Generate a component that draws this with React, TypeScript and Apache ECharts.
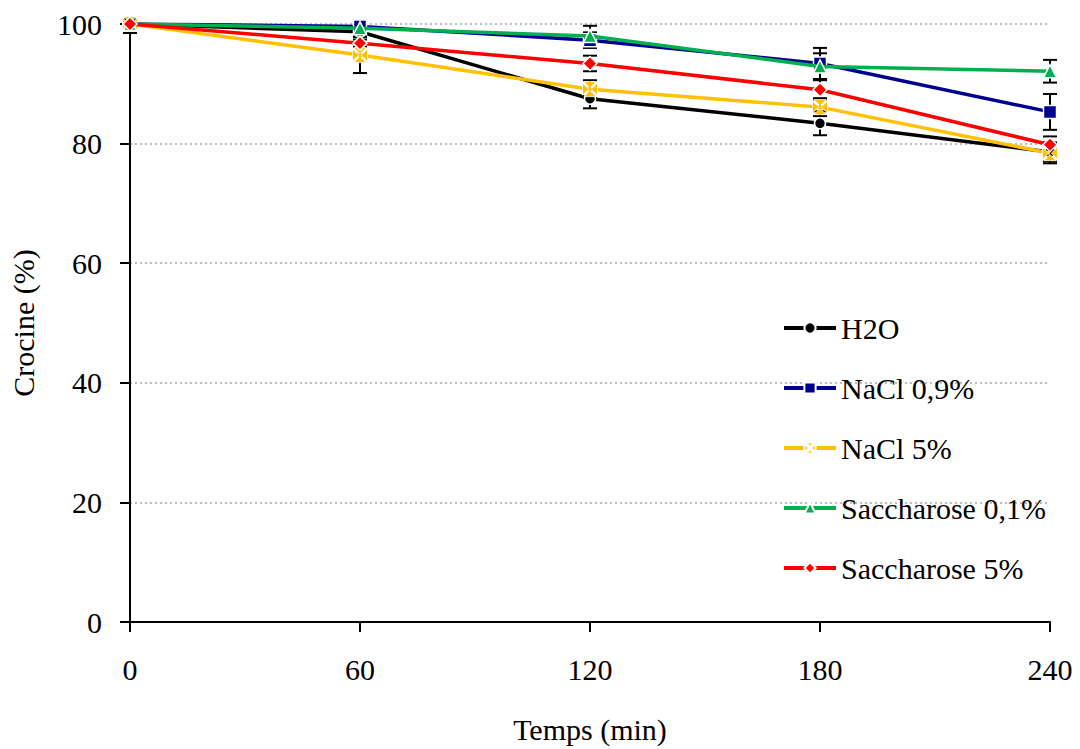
import React, { useEffect, useRef } from "react";
import * as echarts from "echarts";

const times = [0, 60, 120, 180, 240];
const seriesNames = ["H2O", "NaCl 0,9%", "NaCl 5%", "Saccharose 0,1%", "Saccharose 5%"];
const h2o = [100, 98.7, 87.5, 83.4, 78.6];
const h2oErr = [1.5, 0.6, 1.6, 2.0, 1.6];
const nacl09 = [100, 99.6, 97.3, 93.4, 85.3];
const nacl09Err = [0.3, 0.4, 1.3, 2.6, 3.0];
const nacl5 = [100, 94.8, 89.1, 86.1, 78.4];
const nacl5Err = [0.3, 3.0, 1.5, 1.5, 1.7];
const sacch01 = [100, 99.3, 98.0, 92.9, 92.1];
const sacch01Err = [0.3, 0.5, 1.7, 2.2, 1.9];
const sacch5 = [100, 96.8, 93.4, 89.0, 79.8];
const sacch5Err = [0.3, 0.6, 1.3, 1.6, 1.4];
const yMax = 100;

const colors = ["#000000", "#000090", "#FFC000", "#00B050", "#FF0000"];
const FONT = "Liberation Serif, Times New Roman, serif";
const xSymbolPath =
  "path://M0.9,0L9.1,0L5,4.1Z M10,0.9L10,9.1L5.9,5Z M9.1,10L0.9,10L5,5.9Z M0,9.1L0,0.9L4.1,5Z";

export default function App() {
  const ref = useRef<HTMLDivElement>(null);
  useEffect(() => {
    if (!ref.current) return;
    const chart = echarts.init(ref.current, null, { renderer: "svg" });
    const values = [h2o, nacl09, nacl5, sacch01, sacch5];
    const errs = [h2oErr, nacl09Err, nacl5Err, sacch01Err, sacch5Err];
    const symbols = ["circle", "rect", xSymbolPath, "triangle", "diamond"];
    const symbolSizes = [11, 13, 15, 13, 14];
    const borderWidths = [1.5, 1.5, 0.8, 1.5, 1.5];

    const errSeries = values.map((vals, i) => ({
      type: "custom",
      name: "err" + i,
      z: 2,
      silent: true,
      data: times.map((t, j) => [t, vals[j], errs[i][j]]),
      encode: { x: 0, y: 1 },
      renderItem: (params: any, api: any) => {
        const x = api.value(0);
        const y = api.value(1);
        const e = api.value(2);
        const clipped = y + e > yMax;
        const top = api.coord([x, Math.min(y + e, yMax)]);
        const bot = api.coord([x, y - e]);
        const hw = 7;
        const st = { stroke: "#000", lineWidth: 2 };
        const children: any[] = [
          { type: "line", shape: { x1: top[0], y1: top[1], x2: bot[0], y2: bot[1] }, style: st },
          { type: "line", shape: { x1: bot[0] - hw, y1: bot[1], x2: bot[0] + hw, y2: bot[1] }, style: st },
        ];
        if (!clipped) {
          children.push({
            type: "line",
            shape: { x1: top[0] - hw, y1: top[1], x2: top[0] + hw, y2: top[1] },
            style: st,
          });
        }
        return { type: "group", children };
      },
    }));

    const lineSeries = values.map((vals, i) => ({
      type: "line",
      name: seriesNames[i],
      z: 3 + i,
      data: times.map((t, j) => [t, vals[j]]),
      symbol: symbols[i],
      symbolSize: symbolSizes[i],
      showAllSymbol: true,
      lineStyle: { color: colors[i], width: 3.5 },
      itemStyle: { color: colors[i], borderColor: "#fff", borderWidth: borderWidths[i] },
    }));

    chart.setOption({
      animation: false,
      backgroundColor: "#fff",
      textStyle: { fontFamily: FONT },
      grid: { left: 128, right: 30, top: 24, bottom: 124, containLabel: false },
      legend: {
        orient: "vertical",
        left: 777,
        top: 308,
        itemWidth: 52,
        itemHeight: 14,
        itemGap: 30,
        data: seriesNames,
        lineStyle: { width: 4 },
        textStyle: { fontFamily: FONT, fontSize: 30, color: "#000" },
      },
      xAxis: {
        type: "value",
        min: 0,
        max: 240,
        interval: 60,
        name: "Temps (min)",
        nameLocation: "middle",
        nameGap: 92,
        nameTextStyle: { fontFamily: FONT, fontSize: 30, color: "#000" },
        axisLine: { show: true, onZero: false, lineStyle: { color: "#000", width: 2 } },
        axisTick: { show: true, length: 10, lineStyle: { color: "#000", width: 2 } },
        axisLabel: { margin: 32, fontFamily: FONT, fontSize: 30, color: "#000" },
        splitLine: { show: false },
      },
      yAxis: {
        type: "value",
        min: 0,
        max: yMax,
        interval: 20,
        name: "Crocine (%)",
        nameLocation: "middle",
        nameGap: 92,
        nameTextStyle: { fontFamily: FONT, fontSize: 30, color: "#000" },
        axisLine: { show: true, lineStyle: { color: "#000", width: 2 } },
        axisTick: { show: true, length: 10, lineStyle: { color: "#000", width: 2 } },
        axisLabel: { margin: 28, fontFamily: FONT, fontSize: 30, color: "#000" },
        splitLine: { show: true, lineStyle: { color: "#A6A6A6", width: 1.5, type: [2, 3] } },
      },
      series: [...errSeries, ...lineSeries],
    });
    return () => chart.dispose();
  }, []);
  return (
    <div
      ref={ref}
      style={{ position: "fixed", left: 0, top: 0, width: 1080, height: 749, background: "#fff" }}
    />
  );
}
